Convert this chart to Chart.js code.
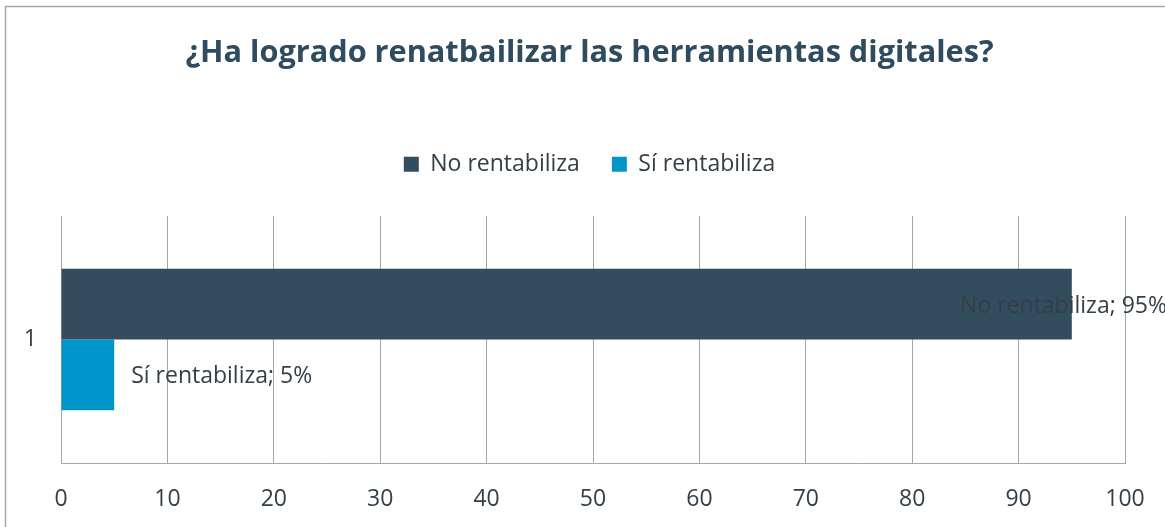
<!DOCTYPE html>
<html lang="es">
<head>
    <meta charset="UTF-8">
    <title>¿Ha logrado renatbailizar las herramientas digitales?</title>
    <script src="https://cdn.jsdelivr.net/npm/chart.js"></script>
    <style>
        body { margin: 0; background: white; }
        canvas { display: block; }
    </style>
</head>
<body>
    <canvas id="chart" width="1165" height="527"></canvas>

    <script>
        // chart data
        const categories = ['1'];
        const seriesNames = ['No rentabiliza', 'Sí rentabiliza'];
        const noValues = [95];
        const siValues = [5];
        const xTicks = [0, 10, 20, 30, 40, 50, 60, 70, 80, 90, 100];

        const darkBlue = '#334d5f';
        const lightBlue = '#0096cc';
        const textColor = '#333f48';
        const gridColor = '#a6a6a6';
        const fontFamily = '"Open Sans", sans-serif';

        // grey frame around the chart (top and left edges show in the picture)
        const framePlugin = {
            id: 'frame',
            beforeDraw(chart) {
                const c = chart.ctx;
                c.save();
                c.strokeStyle = '#a6a6a6';
                c.lineWidth = 1.5;
                c.beginPath();
                c.moveTo(5.5, chart.height + 5);
                c.lineTo(5.5, 6.5);
                c.lineTo(chart.width + 5, 6.5);
                c.stroke();
                c.restore();
            }
        };

        // more room between the legend and the plot
        const legendGap = {
            id: 'legendGap',
            beforeInit(chart) {
                const fit = chart.legend.fit;
                chart.legend.fit = function () {
                    fit.bind(chart.legend)();
                    this.height += 30;
                };
            }
        };

        // "name; value%" labels next to each bar
        const barLabels = {
            id: 'barLabels',
            afterDatasetsDraw(chart) {
                const c = chart.ctx;
                c.save();
                c.font = '23px ' + fontFamily;
                c.fillStyle = textColor;
                c.textBaseline = 'middle';
                chart.data.datasets.forEach((ds, i) => {
                    chart.getDatasetMeta(i).data.forEach((bar, j) => {
                        const text = ds.label + '; ' + ds.data[j] + '%';
                        const w = c.measureText(text).width;
                        const x = Math.min(bar.x + 17, chart.width - w + 2);
                        c.fillText(text, x, bar.y + 2);
                    });
                });
                c.restore();
            }
        };

        new Chart(document.getElementById('chart'), {
            type: 'bar',
            data: {
                labels: categories,
                datasets: [
                    { label: seriesNames[0], data: noValues, backgroundColor: darkBlue },
                    { label: seriesNames[1], data: siValues, backgroundColor: lightBlue }
                ]
            },
            options: {
                indexAxis: 'y',
                responsive: false,
                animation: false,
                devicePixelRatio: 1,
                layout: { padding: { left: 14, right: 0, top: 0, bottom: 0 } },
                datasets: {
                    bar: { categoryPercentage: 0.5726, barPercentage: 1 }
                },
                scales: {
                    x: {
                        min: 0,
                        max: 100,
                        afterBuildTicks(scale) {
                            scale.ticks = xTicks.map(v => ({ value: v }));
                        },
                        afterFit(scale) {
                            scale.height = 64;
                            scale.paddingRight = 40;  // plot ends at 100 well before the frame edge
                        },
                        grid: { color: gridColor, drawTicks: false },
                        border: { color: gridColor },
                        ticks: {
                            color: textColor,
                            padding: 23,
                            font: { family: fontFamily, size: 23 }
                        }
                    },
                    y: {
                        afterFit(scale) { scale.width = 47; },
                        grid: { display: false },
                        border: { display: false },
                        ticks: {
                            color: textColor,
                            padding: 16,
                            font: { family: fontFamily, size: 23 }
                        }
                    }
                },
                plugins: {
                    title: {
                        display: true,
                        text: '¿Ha logrado renatbailizar las herramientas digitales?',
                        color: '#2f4b5f',
                        font: { family: fontFamily, size: 30.7, weight: 'bold' },
                        padding: { top: 35, bottom: 49 }
                    },
                    legend: {
                        display: true,
                        labels: {
                            color: textColor,
                            boxWidth: 15,
                            boxHeight: 15,
                            padding: 32,
                            font: { family: fontFamily, size: 23 }
                        }
                    },
                    tooltip: { enabled: false }
                }
            },
            plugins: [framePlugin, legendGap, barLabels]
        });
    </script>
</body>
</html>
